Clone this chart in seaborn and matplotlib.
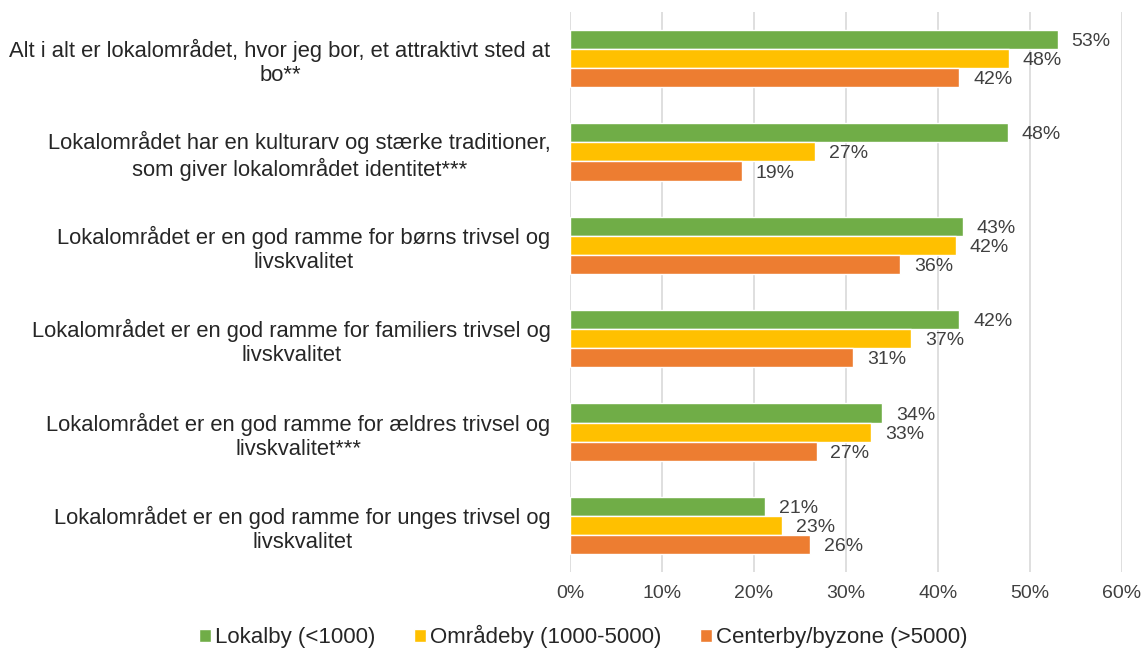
"""
Horizontal grouped bar chart: attitudes towards the local area by town size.
"""
import matplotlib.pyplot as plt
import pandas as pd
import seaborn as sns

# data
statements = [
    "Alt i alt er lokalområdet, hvor jeg bor, et attraktivt sted at\nbo**",
    "Lokalområdet har en kulturarv og stærke traditioner,\nsom giver lokalområdet identitet***",
    "Lokalområdet er en god ramme for børns trivsel og\nlivskvalitet",
    "Lokalområdet er en god ramme for familiers trivsel og\nlivskvalitet",
    "Lokalområdet er en god ramme for ældres trivsel og\nlivskvalitet***",
    "Lokalområdet er en god ramme for unges trivsel og\nlivskvalitet",
]
town_types = ["Lokalby (<1000)", "Områdeby (1000-5000)", "Centerby/byzone (>5000)"]
lokalby = [53.0, 47.6, 42.7, 42.3, 33.9, 21.2]
omraadeby = [47.7, 26.6, 41.9, 37.1, 32.7, 23.0]
centerby = [42.3, 18.7, 35.9, 30.8, 26.8, 26.1]
colors = ["#70AD47", "#FFC000", "#ED7D31"]
x_ticks = [0, 10, 20, 30, 40, 50, 60]

sns.set_style("white")
plt.rcParams["font.family"] = ["Liberation Sans", "DejaVu Sans"]

# Build long table for seaborn
plot_data = pd.DataFrame(
    {
        "statement": statements * 3,
        "town": [t for t in town_types for _ in statements],
        "share": lokalby + omraadeby + centerby,
    }
)

fig, ax = plt.subplots(figsize=(11.41, 6.51), dpi=100)
fig.subplots_adjust(left=0.4996, right=0.9834, top=0.982, bottom=0.121)

sns.barplot(
    data=plot_data,
    y="statement",
    x="share",
    hue="town",
    order=statements,
    hue_order=town_types,
    palette=colors,
    width=0.615,
    saturation=1,
    orient="h",
    ax=ax,
)

for container in ax.containers:
    labels = ax.bar_label(
        container,
        labels=[f"{v:.0f}%" for v in container.datavalues],
        padding=10,
        fontsize=14,
        color="#404040",
    )
    # nudge the value labels down a little, like the original
    for label in labels:
        label.xyann = (10, -1.5)

ax.set_xlim(0, 60)
ax.set_ylim(5.5, -0.5)
ax.set_xlabel("")
ax.set_ylabel("")
ax.grid(axis="x", color="#D9D9D9", linewidth=1.2)
ax.set_axisbelow(True)
for spine in ax.spines.values():
    spine.set_visible(False)
ax.tick_params(axis="x", length=0, pad=9)
ax.tick_params(axis="y", length=0, pad=14)
ax.set_xticks(x_ticks)
ax.set_xticklabels([f"{t}%" for t in x_ticks], fontsize=14, color="#404040")
ax.set_yticks(range(len(statements)))
ax.set_yticklabels(
    statements, fontsize=15.8, color="#262626", multialignment="center"
)

ax.legend(
    loc="center",
    bbox_to_anchor=(0.511, 0.022),
    bbox_transform=fig.transFigure,
    ncol=3,
    frameon=False,
    fontsize=16,
    handlelength=0.56,
    handleheight=0.56,
    handletextpad=0.15,
    columnspacing=1.75,
    labelcolor="#262626",
)

fig.savefig("out.png", dpi=100)
